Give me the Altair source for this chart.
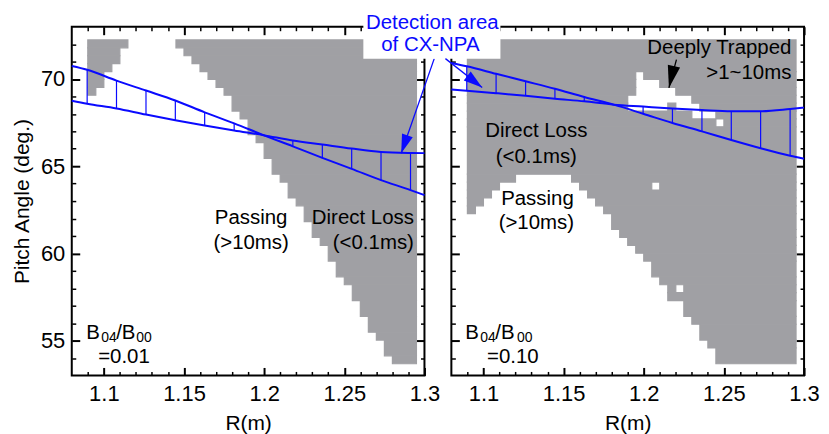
import altair as alt
import pandas as pd

FONT = "Liberation Sans"
GRAY = "#a0a0a4"
BLUE = "#0a0aff"

R_DOMAIN = [1.08, 1.30]
P_DOMAIN = [53.0, 73.0]

X_MAJOR = [1.10, 1.15, 1.20, 1.25, 1.30]
X_MINOR = [1.09, 1.11, 1.12, 1.13, 1.14, 1.16, 1.17, 1.18, 1.19,
           1.21, 1.22, 1.23, 1.24, 1.26, 1.27, 1.28, 1.29]
Y_MAJOR = [55, 60, 65, 70]
Y_MINOR = [54, 56, 57, 58, 59, 61, 62, 63, 64, 66, 67, 68, 69, 71, 72]

# orbit-classification cell grid (R columns x pitch rows)
GRID_R0, GRID_DR, GRID_NC = 1.09, 0.005, 41
GRID_P0, GRID_DP, GRID_NR = 72.24, 0.4529, 41

# left panel (B04/B00 = 0.01): gray cells per row
LEFT_BLOB_LAST = [4, 3, 3, 2, 1, 1, 0]
LEFT_LOSS_FIRST = [11, 12, 13, 14, 15, 16, 17, 18, 18, 19, 20, 20, 21, 22, 22, 23, 23,
                   24, 25, 25, 26, 27, 27, 28, 28, 29, 30, 30, 31, 31, 32, 33, 33, 34,
                   34, 35, 35, 36, 37, 37, 38]

# right panel (B04/B00 = 0.10): white cells inside the gray map
RIGHT_PASS_FIRST_ROW = 17
RIGHT_PASS_FROM = [6, 4, 3, 2, 1] + [0] * 19
RIGHT_PASS_TO = [12, 13, 14, 15, 16, 17, 17, 18, 19, 20, 21, 22, 22, 23, 24, 24,
                 26, 26, 27, 28, 28, 29, 30, 30]
RIGHT_TRAP_COL = [20, 21, 22, 23, 24, 25, 26, 27, 28, 29, 30, 31]
RIGHT_TRAP_FROM = [7, 4, 5, 5, 6, 6, 7, 7, 8, 9, 9, 10]
RIGHT_TRAP_TO = [8, 8, 8, 8, 8, 7, 8, 8, 9, 9, 9, 10]
RIGHT_HOLES = [(23, 18), (26, 31)]

# detection-area boundary curves
CURVE_R = [1.08, 1.0896, 1.1079, 1.1263, 1.1446, 1.1629, 1.1813, 1.1996,
           1.2179, 1.2363, 1.2546, 1.2729, 1.2913, 1.30]
LEFT_A = [70.75, 70.53, 69.91, 69.34, 68.77, 68.09, 67.46, 66.78, 66.14, 65.48,
          64.85, 64.20, 63.63, 63.34]
LEFT_B = [68.75, 68.58, 68.31, 67.96, 67.64, 67.34, 67.05, 66.78, 66.47, 66.24,
          66.01, 65.82, 65.76, 65.75]
RIGHT_A = [70.92, 70.73, 70.30, 69.87, 69.44, 68.97, 68.53, 68.01, 67.48, 67.00,
           66.50, 66.03, 65.60, 65.43]
RIGHT_B = [69.40, 69.33, 69.19, 69.04, 68.87, 68.72, 68.53, 68.42, 68.31, 68.22,
           68.15, 68.15, 68.28, 68.36]

# annotation texts
LEFT_TEXT_C = [("Passing", 1.1919, 61.69), ("(>10ms)", 1.1919, 60.28)]
LEFT_TEXT_R = [("Direct Loss", 1.2934, 61.69), ("(<0.1ms)", 1.2934, 60.28)]
LEFT_TEXT_L = [("B", 1.08898, 55.11), ("/B", 1.1077, 55.11), ("=0.01", 1.09647, 53.72)]
LEFT_SUB = [("04", 1.09834, 54.92), ("00", 1.12017, 54.92)]

RIGHT_TEXT_C = [("Direct Loss", 1.133, 66.66), ("(<0.1ms)", 1.133, 65.21),
                ("Passing", 1.1337, 62.75), ("(>10ms)", 1.133, 61.40)]
RIGHT_TEXT_R = [("Deeply Trapped", 1.2921, 71.42), (">1~10ms", 1.2921, 69.99)]
RIGHT_TEXT_L = [("B", 1.08873, 55.10), ("/B", 1.10745, 55.10), ("=0.10", 1.10227, 53.70)]
RIGHT_SUB = [("04", 1.09809, 54.94), ("00", 1.1210, 54.94)]
BLUE_TEXT = [("Detection area", 1.0681, 72.85), ("of CX-NPA", 1.0669, 71.61)]
LABEL_BOX = {"x0": [1.0251], "x1": [1.1106], "y0": [71.17], "y1": [73.97]}

# arrows: start (R0,P0) -> tip (R1,P1)
ARROW_LEFT = {"R0": [1.3061], "P0": [71.17], "R1": [1.2855], "P1": [65.74]}
ARROW_RIGHT = {"R0": [1.0763], "P0": [71.17], "R1": [1.0992], "P1": [69.51]}
ARROW_TRAP = {"R0": [1.2204], "P0": [71.11], "R1": [1.2157], "P1": [69.49]}

HEAD_BLUE = "M0,0L-0.3,-1L0.3,-1Z"
HEAD_BLACK = "M0,0L-0.28,-1L0.28,-1Z"


def cell_runs(grid):
    """Row-wise runs of gray cells, merged downward when consecutive rows match."""
    row_runs = []
    for row in grid:
        runs, c = [], 0
        while c < GRID_NC:
            if row[c]:
                s = c
                while c < GRID_NC and row[c]:
                    c += 1
                runs.append((s, c))
            else:
                c += 1
        row_runs.append(runs)
    recs, r = [], 0
    while r < GRID_NR:
        e = r + 1
        while e < GRID_NR and row_runs[e] == row_runs[r]:
            e += 1
        for s, c in row_runs[r]:
            recs.append({"x": GRID_R0 + GRID_DR * s, "x2": GRID_R0 + GRID_DR * c,
                         "y": GRID_P0 - GRID_DP * e, "y2": GRID_P0 - GRID_DP * r})
        r = e
    return pd.DataFrame(recs)


left_grid = [[(r < len(LEFT_BLOB_LAST) and c <= LEFT_BLOB_LAST[r]) or c >= LEFT_LOSS_FIRST[r]
              for c in range(GRID_NC)] for r in range(GRID_NR)]
right_grid = [[True] * GRID_NC for _ in range(GRID_NR)]
for i, (a, b) in enumerate(zip(RIGHT_PASS_FROM, RIGHT_PASS_TO)):
    for c in range(a, b + 1):
        right_grid[RIGHT_PASS_FIRST_ROW + i][c] = False
for c, a, b in zip(RIGHT_TRAP_COL, RIGHT_TRAP_FROM, RIGHT_TRAP_TO):
    for r in range(a, b + 1):
        right_grid[r][c] = False
for c, r in RIGHT_HOLES:
    right_grid[r][c] = False


def xs(field, axis):
    return alt.X(field, type="quantitative", axis=axis,
                 scale=alt.Scale(domain=R_DOMAIN, nice=False, zero=False))


def ys(field, axis):
    return alt.Y(field, type="quantitative", axis=axis,
                 scale=alt.Scale(domain=P_DOMAIN, nice=False, zero=False))


def axis(orient, values, size, width, labels=False, title=None, labelPadding=0, titlePadding=0):
    props = dict(orient=orient, values=values, tickSize=size, offset=-size, tickWidth=width,
                 tickColor="black", domain=False, grid=False, labels=labels)
    if labels:
        props.update(labelFont=FONT, labelFontSize=22, labelColor="black",
                     labelPadding=labelPadding, format="~g", labelFlush=False, labelOverlap=False)
    if title:
        props.update(title=title, titleFont=FONT, titleFontSize=21, titleColor="black",
                     titleFontWeight="normal", titlePadding=titlePadding)
    else:
        props["title"] = None
    return alt.Axis(**props)


def texts(rows, align, size=20.5, color="black"):
    df = pd.DataFrame(rows, columns=["t", "R", "P"])
    return alt.Chart(df).mark_text(align=align, baseline="alphabetic", font=FONT,
                                   fontSize=size, color=color).encode(
        x=xs("R", None), y=ys("P", None), text="t:N")


def arrow(d, color, shape, size, angle, width=1.3):
    df = pd.DataFrame(d)
    line = alt.Chart(df).mark_rule(color=color, strokeWidth=width).encode(
        x=xs("R0", None), y=ys("P0", None), x2="R1", y2="P1")
    head = alt.Chart(df).mark_point(shape=shape, filled=True, size=size, angle=angle,
                                    color=color, opacity=1, strokeWidth=0).encode(
        x=xs("R1", None), y=ys("P1", None))
    return [line, head]


def panel(grid, A, B, left_labels, extra):
    cells = cell_runs(grid)
    curves = pd.DataFrame({"R": CURVE_R, "A": A, "B": B})
    hatch = curves.iloc[1:-1]
    yax = axis("left", Y_MAJOR, 8, 2, labels=left_labels,
               title="Pitch Angle (deg.)" if left_labels else None,
               labelPadding=7, titlePadding=8)
    gray = alt.Chart(cells).mark_rect(fill=GRAY, stroke=GRAY, strokeWidth=1.2,
                                      opacity=1).encode(
        x=xs("x", axis("bottom", X_MAJOR, 8, 2, labels=True, title="R(m)",
                       labelPadding=8, titlePadding=8)),
        x2="x2", y=ys("y", yax), y2="y2")
    line_a = alt.Chart(curves).mark_line(color=BLUE, strokeWidth=2, interpolate="monotone").encode(
        x=xs("R", axis("top", X_MAJOR, 8, 2)), y=ys("A", axis("right", Y_MAJOR, 8, 2)))
    line_b = alt.Chart(curves).mark_line(color=BLUE, strokeWidth=2, interpolate="monotone").encode(
        x=xs("R", axis("bottom", X_MINOR, 4, 1.5)), y=ys("B", axis("left", Y_MINOR, 4, 1.5)))
    rules = alt.Chart(hatch).mark_rule(color=BLUE, strokeWidth=1.2).encode(
        x=xs("R", axis("top", X_MINOR, 4, 1.5)), y=ys("B", axis("right", Y_MINOR, 4, 1.5)),
        y2="A")
    return alt.layer(gray, line_a, line_b, rules, *extra).resolve_scale(
        x="independent", y="independent").resolve_axis(
        x="independent", y="independent").properties(width=354, height=350)


left_extra = arrow(ARROW_LEFT, BLUE, HEAD_BLUE, 1444, 19) + [
    texts(LEFT_TEXT_C, "center"), texts(LEFT_TEXT_R, "right"),
    texts(LEFT_TEXT_L, "left"), texts(LEFT_SUB, "left", size=14)]

box = alt.Chart(pd.DataFrame(LABEL_BOX)).mark_rect(color="white", opacity=1).encode(
    x=xs("x0", None), x2="x1", y=ys("y0", None), y2="y1")
right_extra = [box, texts(BLUE_TEXT, "center", size=20.5, color=BLUE)] + \
    arrow(ARROW_RIGHT, BLUE, HEAD_BLUE, 1444, 308) + \
    arrow(ARROW_TRAP, "black", HEAD_BLACK, 2025, 13) + [
    texts(RIGHT_TEXT_C, "center"), texts(RIGHT_TEXT_R, "right"),
    texts(RIGHT_TEXT_L, "left"), texts(RIGHT_SUB, "left", size=14)]

left = panel(left_grid, LEFT_A, LEFT_B, True, left_extra)
right = panel(right_grid, RIGHT_A, RIGHT_B, False, right_extra)

chart = alt.hconcat(left, right, spacing=27, bounds="flush").properties(
    padding={"left": 2, "top": 0, "right": 0, "bottom": 0}
).configure_view(stroke="black", strokeWidth=2)

chart.save("out.html", embed_options={"renderer": "svg", "actions": False})
